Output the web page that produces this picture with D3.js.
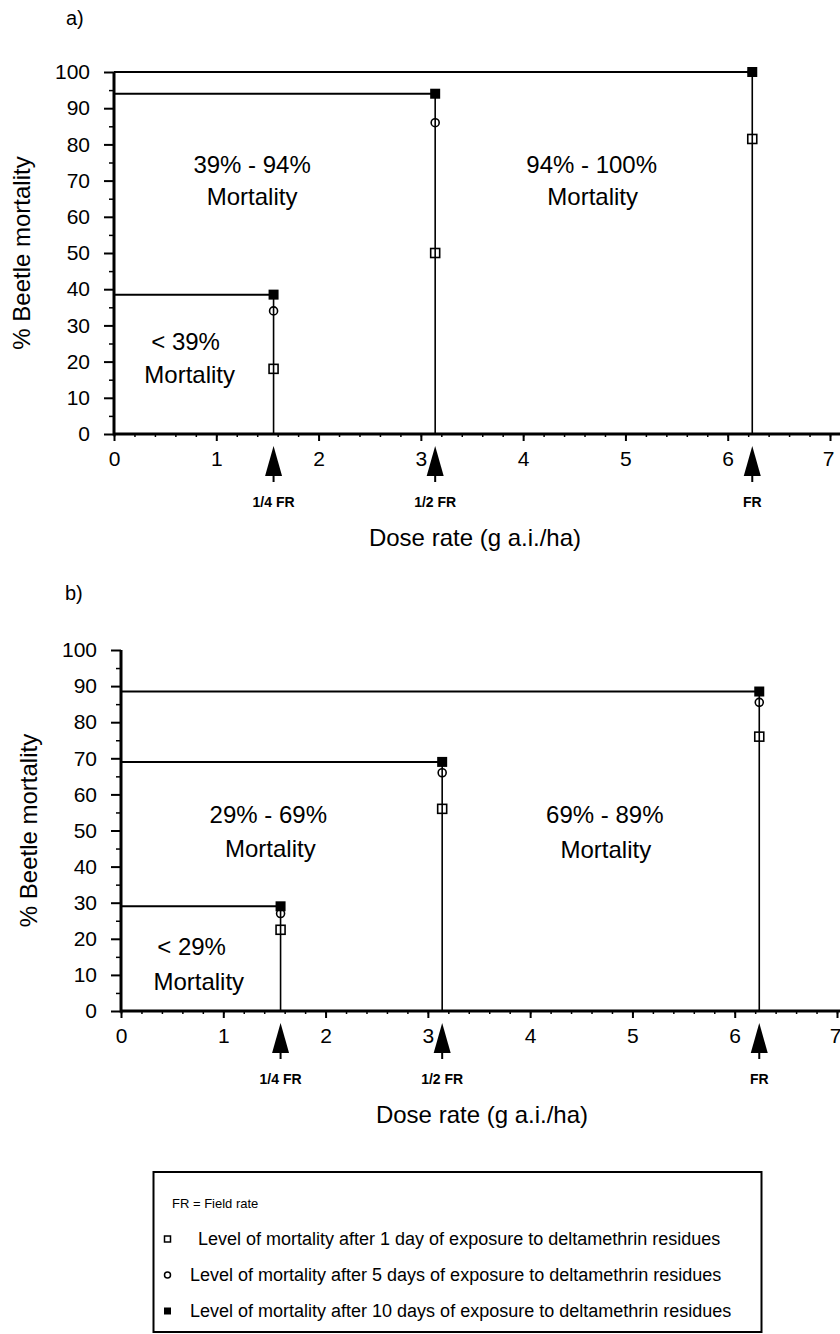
<!DOCTYPE html>
<html>
<head>
<meta charset="utf-8">
<script src="https://cdn.jsdelivr.net/npm/d3@7"></script>
<style>
  body { margin: 0; background: #fff; }
  text { font-family: "Liberation Sans", Arial, sans-serif; fill: #000; }
</style>
</head>
<body>
<script>
// dose rates (g a.i./ha) and their field-rate labels
const doses = [1.56, 3.14, 6.24];
const doseLabels = ['1/4 FR', '1/2 FR', 'FR'];

// panel a) % beetle mortality
const aDay1 = [18, 50, 81.5];
const aDay5 = [34, 86, 100];
const aDay10 = [38.5, 94, 100];

// panel b)
const bDay1 = [22.5, 56, 76];
const bDay5 = [27, 66, 85.5];
const bDay10 = [29, 69, 88.5];

const yTicks = [0, 10, 20, 30, 40, 50, 60, 70, 80, 90, 100];
const xTicks = [0, 1, 2, 3, 4, 5, 6, 7];

const legendLines = [
    'Level of mortality after 1 day of exposure to deltamethrin residues',
    'Level of mortality after 5 days of exposure to deltamethrin residues',
    'Level of mortality after 10 days of exposure to deltamethrin residues'
];

const width = 840;
const height = 1334;
const svg = d3.select('body')
    .append('svg')
    .attr('width', width)
    .attr('height', height)

function drawPanel(p) {
    const x = d3.scaleLinear().domain([0, 7]).range([p.left, p.left + 716]);
    const y = d3.scaleLinear().domain([0, 100]).range([p.bottom, p.top]);
    const g = svg.append('g');

    g.append('text')
        .attr('x', p.labelX)
        .attr('y', p.labelY)
        .attr('dy', '0.35em')
        .attr('font-size', 20)
        .text(p.name)

    // y axis major + minor ticks
    g.append('g')
        .attr('transform', `translate(${p.left},0)`)
        .call(d3.axisLeft(y).tickValues(yTicks).tickSize(10).tickPadding(14))
        .call(a => a.select('.domain').remove())
        .call(a => a.selectAll('line').attr('stroke-width', 2))
        .call(a => a.selectAll('text').attr('font-size', 21).attr('font-family', '"Liberation Sans", Arial, sans-serif'))
    g.append('g')
        .attr('transform', `translate(${p.left},0)`)
        .call(d3.axisLeft(y).tickValues(d3.range(5, 100, 10)).tickSize(5).tickFormat(''))
        .call(a => a.select('.domain').remove())
        .call(a => a.selectAll('line').attr('stroke-width', 1.5))

    // x axis
    g.append('g')
        .attr('transform', `translate(0,${p.bottom})`)
        .call(d3.axisBottom(x).tickValues(d3.range(0, 7.01, 0.2)).tickSize(3).tickFormat(''))
        .call(a => a.select('.domain').remove())
        .call(a => a.selectAll('line').attr('stroke-width', 1.5))
    g.append('g')
        .attr('transform', `translate(0,${p.bottom})`)
        .call(d3.axisBottom(x).tickValues(xTicks).tickSize(7).tickPadding(10).tickFormat(d3.format('d')))
        .call(a => a.select('.domain').remove())
        .call(a => a.selectAll('line').attr('stroke-width', 2))
        .call(a => a.selectAll('text').attr('font-size', 21).attr('font-family', '"Liberation Sans", Arial, sans-serif'))
        .call(a => a.selectAll('.tick').filter(d => d === 7).select('text').attr('text-anchor', 'end').attr('x', 4))

    g.append('line')
        .attr('x1', p.left).attr('x2', width)
        .attr('y1', p.bottom).attr('y2', p.bottom)
        .attr('stroke', '#000').attr('stroke-width', 3)
    g.append('line')
        .attr('x1', p.left).attr('x2', p.left)
        .attr('y1', p.bottom + 1.5).attr('y2', y(100))
        .attr('stroke', '#000').attr('stroke-width', 3)

    // step lines: horizontal from axis, vertical down to axis
    g.selectAll('.hline')
        .data(p.day10)
        .enter()
        .append('line')
        .attr('x1', p.left)
        .attr('x2', (d, i) => x(doses[i]))
        .attr('y1', d => y(d))
        .attr('y2', d => y(d))
        .attr('stroke', '#000')
        .attr('stroke-width', 2)
    g.selectAll('.vline')
        .data(p.day10)
        .enter()
        .append('line')
        .attr('x1', (d, i) => x(doses[i]))
        .attr('x2', (d, i) => x(doses[i]))
        .attr('y1', d => y(d))
        .attr('y2', p.bottom)
        .attr('stroke', '#000')
        .attr('stroke-width', 1.6)

    // markers
    g.selectAll('.day1')
        .data(p.day1)
        .enter()
        .append('rect')
        .attr('x', (d, i) => x(doses[i]) - 4.5)
        .attr('y', d => y(d) - 4.5)
        .attr('width', 9)
        .attr('height', 9)
        .attr('fill', 'none')
        .attr('stroke', '#000')
        .attr('stroke-width', 1.6)
    g.selectAll('.day5')
        .data(p.day5)
        .enter()
        .append('circle')
        .attr('cx', (d, i) => x(doses[i]))
        .attr('cy', d => y(d))
        .attr('r', 4)
        .attr('fill', 'none')
        .attr('stroke', '#000')
        .attr('stroke-width', 1.6)
    g.selectAll('.day10')
        .data(p.day10)
        .enter()
        .append('rect')
        .attr('x', (d, i) => x(doses[i]) - 5)
        .attr('y', d => y(d) - 5)
        .attr('width', 10)
        .attr('height', 10)
        .attr('fill', '#000')

    // field rate arrows under the axis
    const arrows = g.selectAll('.arrow')
        .data(doses)
        .enter()
        .append('g')
        .attr('transform', d => `translate(${x(d)},${p.bottom + 12})`)
    arrows.append('path')
        .attr('d', 'M0,0 L8.5,30 L-8.5,30 Z')
        .attr('fill', '#000')
    arrows.append('line')
        .attr('y1', 28).attr('y2', 36)
        .attr('stroke', '#000').attr('stroke-width', 2)
    arrows.append('text')
        .attr('y', 56)
        .attr('dy', '0.35em')
        .attr('text-anchor', 'middle')
        .attr('font-size', 14)
        .attr('font-weight', 'bold')
        .text((d, i) => doseLabels[i])

    // titles
    g.append('text')
        .attr('x', p.left + 361)
        .attr('y', p.bottom + 104)
        .attr('dy', '0.35em')
        .attr('text-anchor', 'middle')
        .attr('font-size', 24)
        .text('Dose rate (g a.i./ha)')
    g.append('text')
        .attr('transform', `translate(${p.left - 92},${(p.top + p.bottom) / 2}) rotate(-90)`)
        .attr('dy', '0.35em')
        .attr('text-anchor', 'middle')
        .attr('font-size', 24)
        .text('% Beetle mortality')

    // region annotations
    g.selectAll('.note')
        .data(p.notes)
        .enter()
        .append('text')
        .attr('x', d => x(d[0]))
        .attr('y', d => y(d[1]))
        .attr('dy', '0.35em')
        .attr('text-anchor', 'middle')
        .attr('font-size', 24)
        .text(d => d[2])
}

drawPanel({
    name: 'a)', left: 114, top: 72, bottom: 434, labelX: 66, labelY: 18,
    day1: aDay1, day5: aDay5, day10: aDay10,
    notes: [
        [1.35, 74.3, '39% - 94%'], [1.35, 65.5, 'Mortality'],
        [0.70, 25.5, '< 39%'], [0.74, 16.3, 'Mortality'],
        [4.67, 74.3, '94% - 100%'], [4.68, 65.5, 'Mortality']
    ]
})

drawPanel({
    name: 'b)', left: 121, top: 650, bottom: 1011, labelX: 65, labelY: 593,
    day1: bDay1, day5: bDay5, day10: bDay10,
    notes: [
        [1.44, 54.3, '29% - 69%'], [1.46, 45, 'Mortality'],
        [0.69, 17.8, '< 29%'], [0.76, 8.1, 'Mortality'],
        [4.73, 54.3, '69% - 89%'], [4.74, 44.6, 'Mortality']
    ]
})

// legend box
const legend = svg.append('g')
legend.append('rect')
    .attr('x', 153.5)
    .attr('y', 1172)
    .attr('width', 608)
    .attr('height', 160)
    .attr('fill', 'none')
    .attr('stroke', '#000')
    .attr('stroke-width', 2)
legend.append('text')
    .attr('x', 172)
    .attr('y', 1203)
    .attr('dy', '0.35em')
    .attr('font-size', 13)
    .text('FR = Field rate')

const rows = legend.selectAll('.row')
    .data(legendLines)
    .enter()
    .append('g')
    .attr('transform', (d, i) => `translate(0,${1239 + i * 36})`)
rows.append('text')
    .attr('x', (d, i) => i === 0 ? 198 : 190)
    .attr('dy', '0.35em')
    .attr('font-size', 18)
    .text(d => d)
rows.filter((d, i) => i === 0).append('rect')
    .attr('x', 164.5).attr('y', -3).attr('width', 6).attr('height', 6)
    .attr('fill', 'none').attr('stroke', '#000').attr('stroke-width', 1.5)
rows.filter((d, i) => i === 1).append('circle')
    .attr('cx', 167.5).attr('r', 3)
    .attr('fill', 'none').attr('stroke', '#000').attr('stroke-width', 1.5)
rows.filter((d, i) => i === 2).append('rect')
    .attr('x', 164).attr('y', -3.5).attr('width', 7).attr('height', 7)
    .attr('fill', '#000')
</script>
</body>
</html>
